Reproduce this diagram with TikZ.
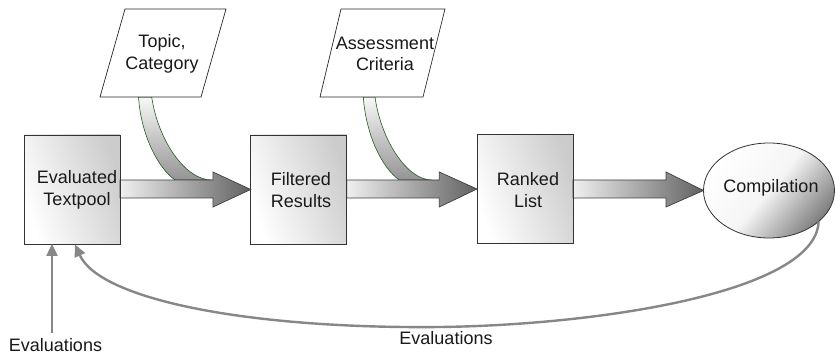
\documentclass[tikz,border=0pt]{standalone}
\usepackage{fontspec}
\setmainfont{Liberation Sans}
\usetikzlibrary{arrows.meta,shapes.geometric}
\tikzset{
  txt/.style={font=\fontsize{18}{21.5}\selectfont, align=center, inner sep=0pt, text=black!90},
  boxstyle/.style={draw=black!80, line width=0.8pt, left color=white, right color=black!20, shading angle=110, minimum width=96pt, minimum height=109pt, inner sep=0pt, outer sep=0pt},
  bigarrow/.style={draw=black!75, line width=0.7pt, left color=black!6, right color=black!62},
  band/.style={draw=green!25!black!85, line width=0.6pt, top color=black!3, bottom color=black!42},
  para/.style={draw=black!85, line width=0.7pt, fill=white},
  fb/.style={draw=black!47, line width=2.4pt, -{Triangle[length=12pt,width=11pt]}},
}
\begin{document}
\begin{tikzpicture}[x=1pt,y=-1pt]
\useasboundingbox[fill=white] (0,0) rectangle (835,355);

% bands
\path[band] (138.5,97) .. controls (141,135) and (158,168) .. (175,180)
  -- (211.7,180) .. controls (185,180) and (158,140) .. (151.7,97) -- cycle;
\path[band] (363.3,97) .. controls (366,135) and (382,168) .. (399.3,180)
  -- (431.7,180) .. controls (407,180) and (381,140) .. (375,97) -- cycle;

% boxes
\node[boxstyle] (tp) at (72,189.5) {};
\node[boxstyle] (fr) at (298.7,189.5) {};
\node[boxstyle] (rl) at (525,189) {};
\node[ellipse, draw=black!80, line width=0.8pt, minimum width=131pt, minimum height=95pt, inner sep=0pt, outer sep=0pt,
      top color=white, bottom color=black!50, middle color=black!4, shading angle=50] (comp) at (769,190.5) {};

% big arrows
\path[bigarrow] (tp.east |- 0,180) -- (213,180) -- (213,172) -- (fr.west) -- (213,207) -- (213,198) -- (tp.east |- 0,198) -- cycle;
\path[bigarrow] (fr.east |- 0,180) -- (439.3,180) -- (439.3,172) -- (rl.west) -- (439.3,207) -- (439.3,198) -- (fr.east |- 0,198) -- cycle;
\path[bigarrow] (rl.east |- 0,180) -- (666,180) -- (666,172) -- (comp.west) -- (666,207) -- (666,198) -- (rl.east |- 0,198) -- cycle;
\draw[draw=black!80, line width=0.8pt] (tp.north east) -- (tp.south east);
\draw[draw=black!80, line width=0.8pt] (fr.north east) -- (fr.south east);
\draw[draw=black!80, line width=0.8pt] (rl.north east) -- (rl.south east);

% parallelograms
\path[para] (125,9) -- (226,9) -- (201,97) -- (100,97) -- cycle;
\path[para] (341,9) -- (445,9) -- (423,97) -- (320,97) -- cycle;

% texts
\node[txt] (tptext) at (77,190) {Evaluated\\Textpool};
\node[txt] (frtext) at (301,190) {Filtered\\Results};
\node[txt] (rltext) at (528,190) {Ranked\\List};
\node[txt] (comptext) at (771,188) {Compilation};
\node[txt] (topic) at (162,54) {Topic,\\Category};
\node[txt] (assess) at (385,54) {Assessment\\Criteria};
\node[txt, anchor=base] (ev1) at (55.5,351.5) {Evaluations};
\node[txt, anchor=base] (ev2) at (446,344) {Evaluations};

% feedback arrows
\coordinate (s1) at (52,333);
\coordinate (e2) at (75,244.5);
\draw[fb] (s1) -- (s1 |- tp.south);
\draw[fb] (comp.-32) .. controls (816,292) and (600,325) .. (440,327) .. controls (250,329) and (100,300) .. (e2);
\end{tikzpicture}
\end{document}
